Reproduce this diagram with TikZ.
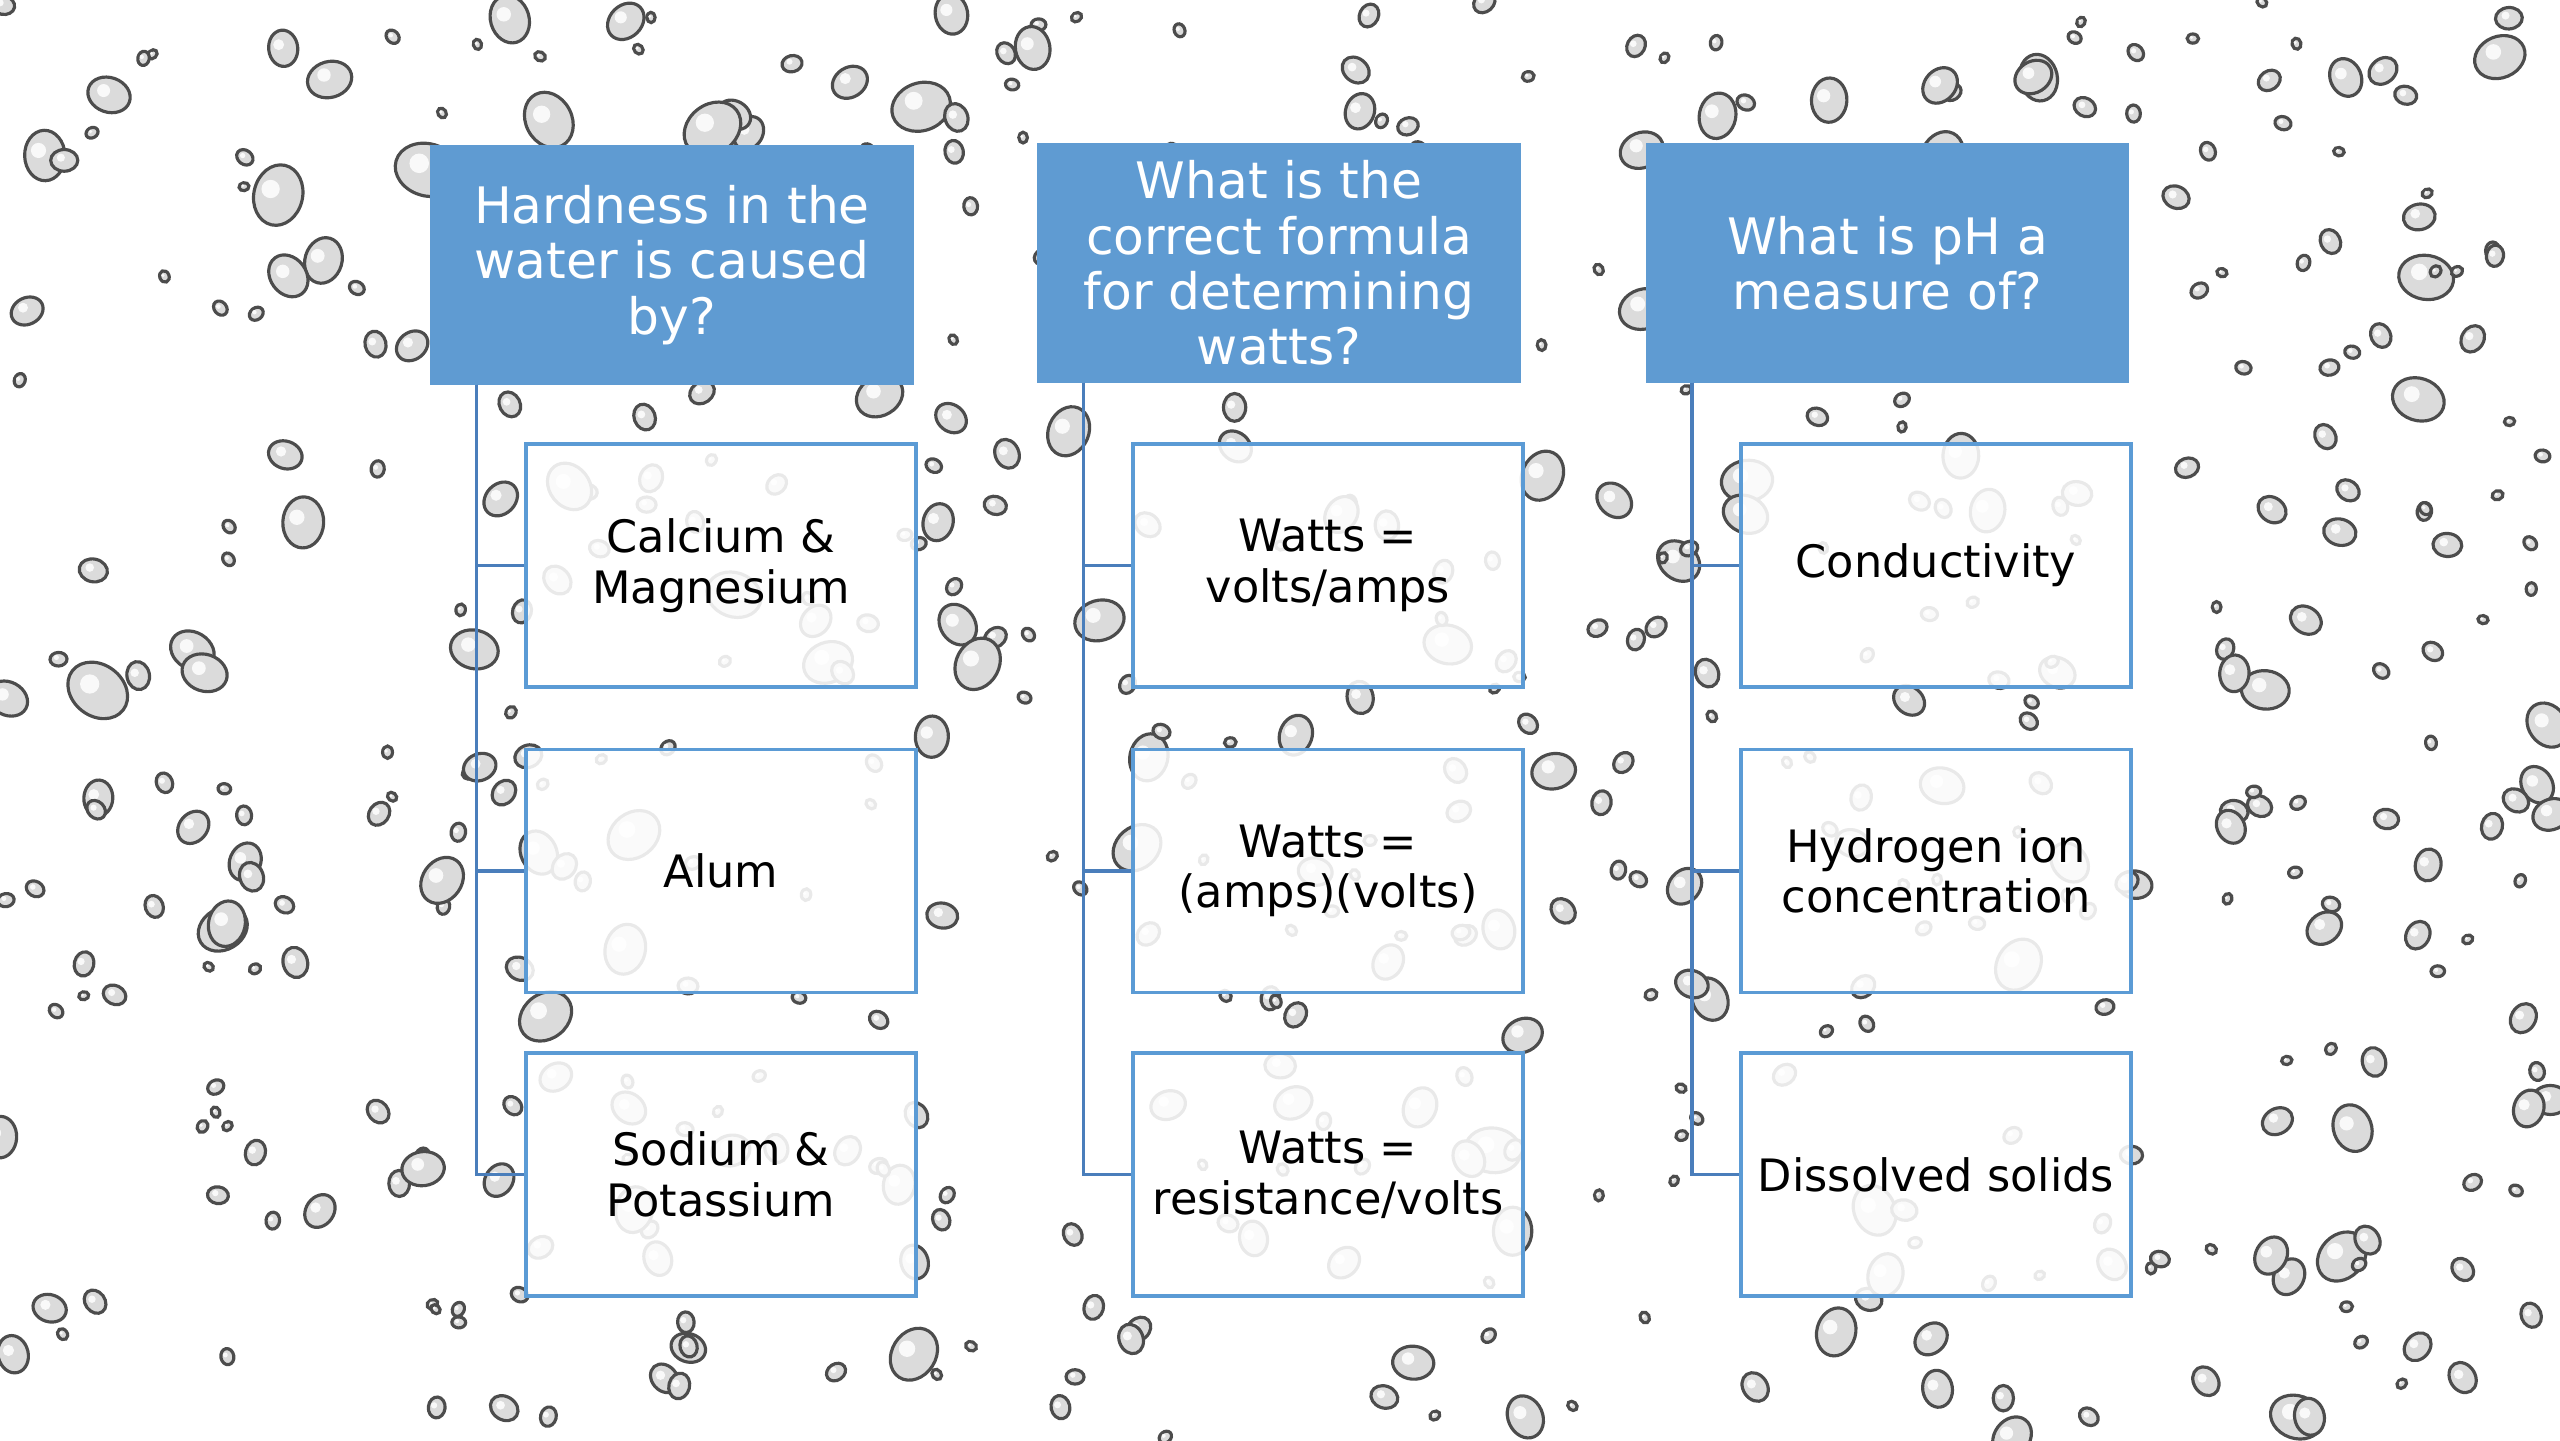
\documentclass[tikz,border=0pt]{standalone}
\usepackage{fontspec}
\setmainfont{DejaVu Sans}
\usepackage{tikz}
\usetikzlibrary{positioning}

\definecolor{qblue}{HTML}{5F9BD2}
\definecolor{aline}{HTML}{5B9BD5}
\definecolor{tree}{HTML}{4A7EBB}

\tikzset{
  question/.style={rectangle, fill=qblue, draw=qblue, text=white, align=center,
    minimum width=4.82cm, minimum height=2.38cm, inner sep=0pt,
    font=\fontsize{14.3}{15.7}\selectfont},
  answer/.style={rectangle, draw=aline, line width=0.9pt, fill=white, fill opacity=0.88,
    text opacity=1, text=black, align=center, minimum width=3.9cm, minimum height=2.43cm,
    inner sep=0pt, font=\fontsize{12.7}{14.4}\selectfont},
  drop/.style={draw=black!70, line width=0.9pt, fill=black!14},
  branch/.style={draw=tree, line width=1pt}
}

\begin{document}
\begin{tikzpicture}
        \useasboundingbox (0,0) rectangle (25.6,-14.4);
        \fill[white] (0,0) rectangle (25.6,-14.4);
        % water drops
        \begin{scope}
            \clip (0,0) rectangle (25.6,-14.4);
            \pgfmathsetseed{4117}
            \foreach \i in {1,...,560} {
                \pgfmathsetmacro{\x}{25.6*rnd}
                \pgfmathsetmacro{\y}{-14.4*rnd}
                \pgfmathsetmacro{\r}{0.05+0.3*rnd*rnd}
                \pgfmathsetmacro{\a}{180*rnd}
                \draw[drop, rotate around={\a:(\x,\y)}] (\x,\y) ellipse ({\r} and {0.8*\r});
                \fill[white, opacity=0.85] (\x-0.25*\r,\y+0.2*\r) circle (0.3*\r);
            }
        \end{scope}

        % questions
        \node[question] (hard) at (6.72,-2.65) {Hardness in the\\water is caused\\by?};
        \node[question] (watt) at (12.79,-2.63) {What is the\\correct formula\\for determining\\watts?};
        \node[question] (ph) at (18.875,-2.63) {What is pH a\\measure of?};

        % answers
        \node[answer] (hard1) at (7.21,-5.655) {Calcium \&\\Magnesium};
        \node[answer] (hard2) at (7.21,-8.71) {Alum};
        \node[answer] (hard3) at (7.21,-11.745) {Sodium \&\\Potassium};
        \node[answer] (watt1) at (13.28,-5.655) {Watts =\\volts/amps};
        \node[answer] (watt2) at (13.28,-8.71) {Watts =\\(amps)(volts)};
        \node[answer] (watt3) at (13.28,-11.745) {Watts =\\resistance/volts};
        \node[answer] (ph1) at (19.36,-5.655) {Conductivity};
        \node[answer] (ph2) at (19.36,-8.71) {Hydrogen ion\\concentration};
        \node[answer] (ph3) at (19.36,-11.745) {Dissolved solids};

        \foreach \q in {hard,watt,ph}
            \foreach \k in {1,2,3}
                \draw[branch] ([xshift=0.46cm]\q.south west) |- (\q\k.west);
    \end{tikzpicture}
\end{document}
